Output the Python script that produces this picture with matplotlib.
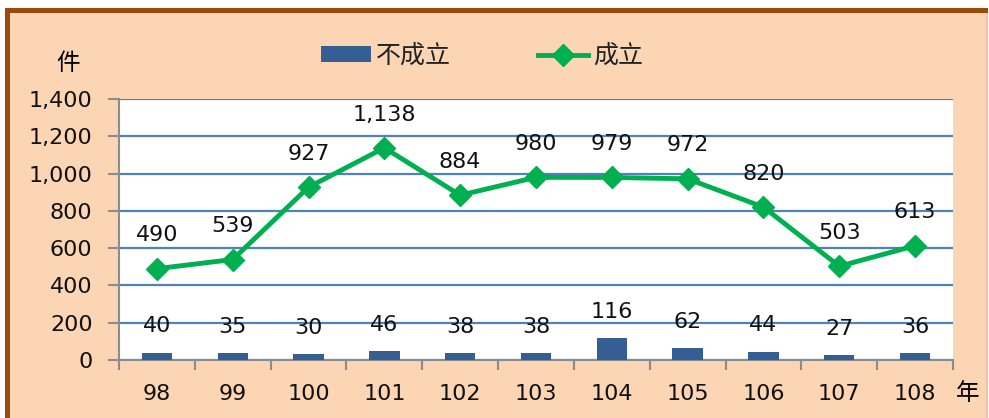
import matplotlib
matplotlib.use("Agg")
import matplotlib.pyplot as plt
from matplotlib.patches import Rectangle
from matplotlib.lines import Line2D
import numpy as np

plt.rcParams['font.family'] = ['DejaVu Sans', 'Noto Sans CJK TC']

years = ['98', '99', '100', '101', '102', '103', '104', '105', '106', '107', '108']
not_established = [40, 35, 30, 46, 38, 38, 116, 62, 44, 27, 36]
established = [490, 539, 927, 1138, 884, 980, 979, 972, 820, 503, 613]
yticks = [0, 200, 400, 600, 800, 1000, 1200, 1400]

W, H = 989, 418
fig = plt.figure(figsize=(W / 100, H / 100), dpi=100)
fig.patch.set_facecolor('white')

peach = '#FCD5B5'
brown = '#9C4A0A'
fig.patches.append(Rectangle((5 / W, 0), (988 - 5) / W, (H - 8) / H, transform=fig.transFigure,
                             facecolor=peach, edgecolor='none', zorder=-3))
fig.patches.append(Rectangle((986 / W, 0), 2 / W, (H - 8) / H, transform=fig.transFigure,
                             facecolor='#EFC4A0', edgecolor='none', zorder=-2))
fig.patches.append(Rectangle((5 / W, (H - 13) / H), (988 - 5) / W, 5 / H, transform=fig.transFigure,
                             facecolor=brown, edgecolor='none', zorder=-1))
fig.patches.append(Rectangle((5 / W, 0), 5 / W, (H - 8) / H, transform=fig.transFigure,
                             facecolor=brown, edgecolor='none', zorder=-1))

ax = fig.add_axes([119 / W, 1 - 360 / H, (953 - 119) / W, (360 - 99) / H])
ax.set_zorder(5)
ax.set_facecolor('white')
x = np.arange(len(years))

ax.bar(x, not_established, width=0.4, color='#355F92', zorder=3)
ax.plot(x, established, color='#00B050', linewidth=3.5, marker='D', markersize=11,
        markerfacecolor='#00B050', markeredgecolor='#00B050', zorder=4)

ax.set_xlim(-0.5, len(years) - 0.5)
ax.set_ylim(0, 1400)
ax.set_yticks(yticks)
ax.set_yticklabels([f'{v:,}' for v in yticks], fontsize=16, color='#111111')
ax.yaxis.grid(True, color='#4F81BD', linewidth=1.6, zorder=1)
ax.set_axisbelow(True)

ax.set_xticks(x)
ax.set_xticklabels(years, fontsize=16, color='#111111')
ax.set_xticks(np.arange(-0.5, len(years), 1), minor=True)
ax.tick_params(axis='x', which='major', length=0, pad=17)
ax.tick_params(axis='x', which='minor', length=7, width=1.5, color='#8C8C8C')
ax.tick_params(axis='y', length=8, width=1.5, color='#8C8C8C', pad=11)

for s in ['top', 'right']:
    ax.spines[s].set_visible(False)
for s in ['left', 'bottom']:
    ax.spines[s].set_color('#8C8C8C')
    ax.spines[s].set_linewidth(1.5)

for xi, v in zip(x, not_established):
    ax.annotate(f'{v:,}', (xi, v), xytext=(0, 19), textcoords='offset points',
                ha='center', va='center', fontsize=16, color='#111111', zorder=5)
for xi, v in zip(x, established):
    ax.annotate(f'{v:,}', (xi, v), xytext=(0, 24), textcoords='offset points',
                ha='center', va='center', fontsize=16, color='#111111', zorder=5)

cjk = ['Noto Sans CJK TC', 'DejaVu Sans']
fig.text(68 / W, 1 - 63 / H, '件', fontsize=17, ha='center', va='center', family=cjk)
fig.text(968 / W, 1 - 393 / H, '年', fontsize=17, ha='center', va='center', family=cjk)

handles = [Rectangle((0, 0), 1, 1, facecolor='#355F92', edgecolor='none'),
           Line2D([0], [0], color='#00B050', linewidth=3.5, marker='D', markersize=11)]
leg = fig.legend(handles, ['不成立', '成立'], loc='center', bbox_to_anchor=(482 / W, 1 - 56 / H),
                 ncol=2, frameon=False, prop={'family': cjk, 'size': 18},
                 handlelength=2.0, handleheight=0.6, columnspacing=3.5, handletextpad=0.2)
for t in leg.get_texts():
    t.set_color('#222222')

fig.savefig('out.png', dpi=100, facecolor=fig.get_facecolor())
